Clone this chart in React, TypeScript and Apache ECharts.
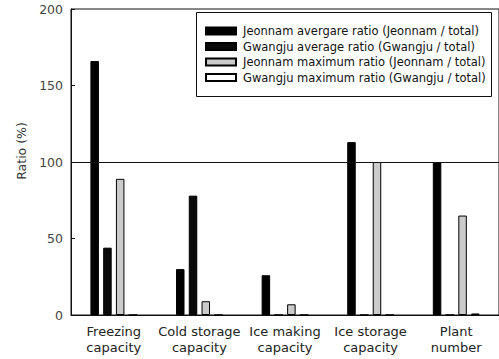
import React, { useEffect, useRef } from "react";
import * as echarts from "echarts";

const categories = [
  "Freezing\ncapacity",
  "Cold storage\ncapacity",
  "Ice making\ncapacity",
  "Ice storage\ncapacity",
  "Plant\nnumber",
];

const seriesNames = [
  "Jeonnam avergare ratio (Jeonnam / total)",
  "Gwangju average ratio (Gwangju / total)",
  "Jeonnam maximum ratio (Jeonnam / total)",
  "Gwangju maximum ratio (Gwangju / total)",
];

const jeonnamAverage = [166, 30, 26, 113, 100];
const gwangjuAverage = [44, 78, 0, 0, 0];
const jeonnamMaximum = [89, 9, 7, 100, 65];
const gwangjuMaximum = [0, 0, 0, 0, 1];

const fills = ["#000000", "#0a0a0a", "#cbcbcb", "#ffffff"];

const yTicks = { min: 0, max: 200, interval: 50 };
const referenceLine = 100;
const yAxisTitle = "Ratio (%)";

const FONT = "DejaVu Sans, Verdana, sans-serif";

export default function App() {
  const ref = useRef<HTMLDivElement>(null);

  useEffect(() => {
    if (!ref.current) return;
    const chart = echarts.init(ref.current, undefined, { renderer: "svg" });
    const values = [jeonnamAverage, gwangjuAverage, jeonnamMaximum, gwangjuMaximum];

    chart.setOption({
      animation: false,
      backgroundColor: "#ffffff",
      textStyle: { fontFamily: FONT },
      grid: {
        left: 71,
        top: 9,
        width: 435,
        height: 306,
        show: true,
        borderColor: "#111",
        borderWidth: 1,
        backgroundColor: "transparent",
      },
      legend: {
        orient: "vertical",
        left: 205,
        top: 25,
        padding: 0,
        itemWidth: 30,
        itemHeight: 7,
        itemGap: 3.5,
        z: 10,
        selectedMode: false,
        textStyle: { fontFamily: FONT, fontSize: 11.5, color: "#111", padding: [0, 0, 0, 2] },
        data: seriesNames.map((name) => ({ name, icon: "rect" })),
      },
      graphic: [
        {
          // legend frame
          type: "rect",
          left: 196,
          top: 12,
          z: 5,
          shape: { width: 295, height: 84 },
          style: { fill: "#fff", stroke: "#111", lineWidth: 1 },
        },
        {
          type: "text",
          x: 21,
          y: 151,
          rotation: Math.PI / 2,
          style: {
            text: yAxisTitle,
            fontFamily: FONT,
            fontSize: 12.5,
            fill: "#333",
            align: "center",
            verticalAlign: "middle",
          },
        },
      ],
      xAxis: {
        type: "category",
        data: categories,
        axisLine: { lineStyle: { color: "#111", width: 1 } },
        axisTick: { show: false },
        axisLabel: {
          fontFamily: FONT,
          fontSize: 13,
          lineHeight: 15.5,
          color: "#222",
          margin: 9,
          interval: 0,
        },
      },
      yAxis: {
        type: "value",
        min: yTicks.min,
        max: yTicks.max,
        interval: yTicks.interval,
        axisLine: { show: true, lineStyle: { color: "#111", width: 1 } },
        axisTick: { show: true, inside: true, length: 4, lineStyle: { color: "#111" } },
        splitLine: { show: false },
        axisLabel: { fontFamily: FONT, fontSize: 12.5, color: "#444", margin: 8 },
      },
      series: seriesNames.map((name, i) => ({
        name,
        type: "bar",
        data: values[i],
        barWidth: 8.5,
        barGap: "50%",
        itemStyle: { color: fills[i], borderColor: "#000", borderWidth: 1 },
        markLine:
          i === 0
            ? {
                silent: true,
                symbol: "none",
                label: { show: false },
                lineStyle: { color: "#111", width: 1, type: "solid" },
                data: [{ yAxis: referenceLine }],
              }
            : undefined,
      })),
    });

    return () => chart.dispose();
  }, []);

  return (
    <div
      ref={ref}
      style={{ position: "fixed", left: 0, top: 0, width: 499, height: 359, background: "#fff" }}
    />
  );
}
